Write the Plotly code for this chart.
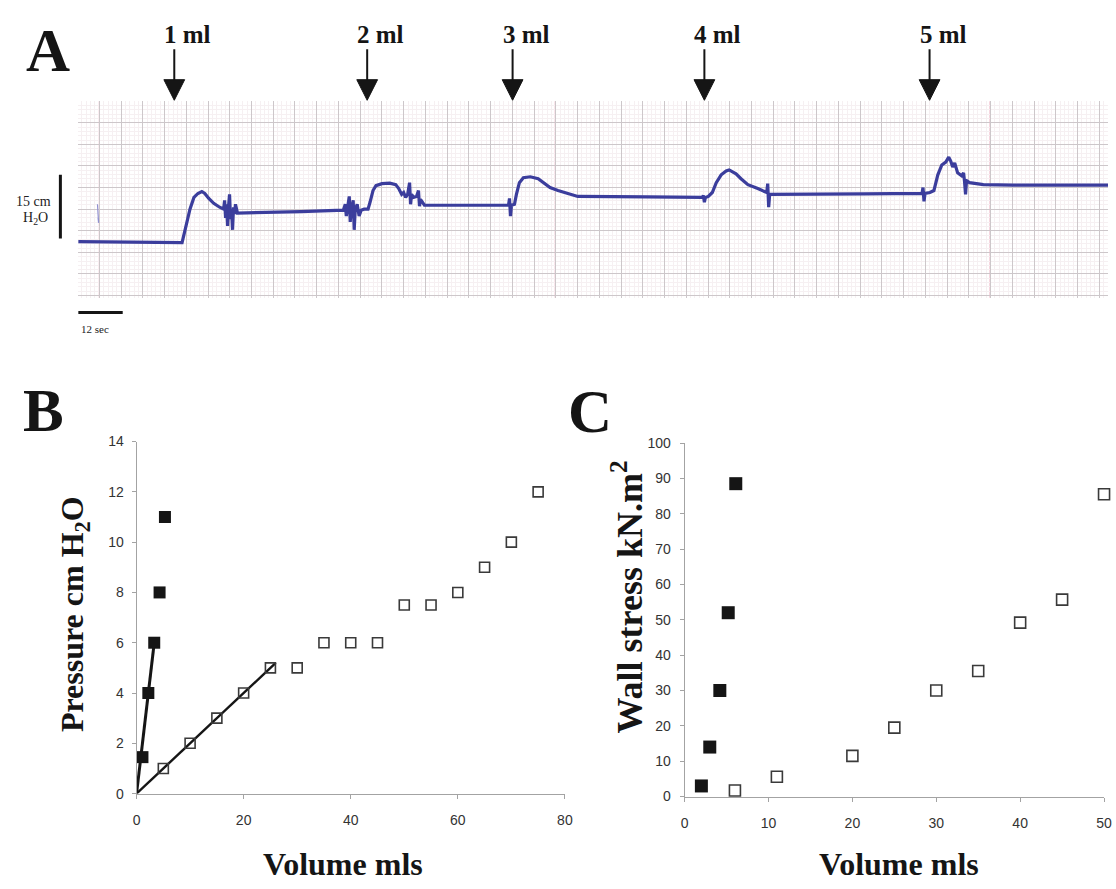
import plotly.graph_objects as go

W, H = 1116, 889

# ---------------- Panel A: bladder pressure recording ----------------
# time in seconds from start of strip, pressure in cm H2O above starting baseline
trace_time_s = [
    0, 12, 27.47, 28, 29.07, 30.13, 31.2, 32.27, 33.33, 34.13, 35.2, 36.53, 38.13,
    39.2, 39.47, 39.73, 40, 40.27, 40.53, 40.8, 41.07, 41.33, 41.6, 41.87, 42.13, 42.4, 42.93,
    49.33, 60, 71.47,
    72, 72.27, 72.53, 73.07, 73.33, 73.6, 74.13, 74.4, 74.67, 75.2, 75.73, 76.27, 77.07,
    78.13, 78.67, 79.47, 80.27, 81.87, 84, 85.6, 86.4, 87.2, 87.73, 88.27, 88.8,
    89.33, 89.6, 89.87, 90.4, 91.2, 91.73, 92, 92.27, 93.33, 105.33, 115.47,
    116, 116.27, 116.53, 116.8, 117.6, 118.13, 118.93, 120, 121.87, 124, 125.6, 127.2, 129.33,
    134.67, 153.33, 168.27,
    168.53, 168.8, 169.07, 169.87, 170.93, 172, 173.33, 174.67, 175.47, 176.27, 177.33,
    178.67, 180.53, 183.2, 185.6,
    185.87, 186.13, 186.4, 193.33, 212, 227.47,
    227.73, 228, 228.27, 229.6, 230.67, 231.73, 232.8, 233.87, 234.67, 235.2, 235.73,
    236.27, 237.07, 238.13,
    238.67, 238.93, 239.2, 239.47, 240.27, 244, 252, 277.6,
]
trace_pressure_cmh2o = [
    0, -0.12, -0.35, -0.23, 3.70, 7.62, 10.39, 11.32, 11.78, 11.32, 10.16, 9.01, 8.08,
    7.62, 9.70, 5.54, 8.78, 3.70, 8.31, 11.09, 5.31, 7.62, 2.77, 8.08, 6.47, 8.78, 6.70,
    6.81, 7.04, 7.39,
    8.78, 6.0, 7.62, 10.62, 4.62, 7.39, 9.70, 2.77, 7.39, 8.78, 6.0, 7.39, 7.62,
    7.62, 9.24, 12.01, 13.16, 13.63, 13.74, 13.39, 12.47, 11.09, 11.55, 10.39, 11.09,
    13.86, 8.78, 11.09, 10.39, 10.62, 12.01, 8.31, 9.93, 8.55, 8.55, 8.55,
    8.55, 10.16, 6.0, 8.55, 8.78, 11.09, 13.86, 15.01, 15.24, 14.78, 13.63, 12.70, 12.01,
    10.62, 10.51, 10.39,
    10.85, 9.24, 10.39, 10.62, 11.55, 13.86, 15.70, 16.63, 16.86, 16.40, 15.94,
    14.78, 13.39, 12.47, 11.55,
    13.63, 8.08, 11.09, 11.09, 11.20, 11.32,
    12.70, 9.47, 11.32, 11.55, 12.01, 15.70, 18.01, 18.71, 19.86, 18.94, 17.55,
    18.48, 16.17, 15.47,
    16.17, 14.09, 11.09, 14.32, 13.86, 13.39, 13.28, 13.28,
]
# faint pen blip near the start of the strip
blip_time_s = [5.2, 5.45, 5.3, 5.5, 5.35]
blip_pressure_cmh2o = [8.8, 6.2, 7.6, 4.4, 5.6]

injection_time_s = [25.9, 77.9, 117.1, 168.8, 229.5]
injection_labels = ["1 ml", "2 ml", "3 ml", "4 ml", "5 ml"]

# chart-paper ruling (s and cm H2O)
paper_x_start_s, paper_x_step_s = 5.7, 5.86
paper_y_start_cm, paper_y_step_cm = 2.54, 5.08
paper_red_lines_s = [5.7, 128.6, 245.8]

scale_pressure_cmh2o = 15
scale_time_s = 12

# ---------------- Panel B: pressure-volume ----------------
b_filled_vol = [1.1, 2.2, 3.3, 4.3, 5.3]
b_filled_press = [1.45, 4.0, 6.0, 8.0, 11.0]
b_open_vol = [5, 10, 15, 20, 25, 30, 35, 40, 45, 50, 55, 60, 65, 70, 75]
b_open_press = [1, 2, 3, 4, 5, 5, 6, 6, 6, 7.5, 7.5, 8, 9, 10, 12]
b_filled_fit_vol = [0, 3.3]
b_filled_fit_press = [0, 6.0]
b_open_fit_vol = [0, 26]
b_open_fit_press = [0, 5.2]

# ---------------- Panel C: wall stress-volume ----------------
c_filled_vol = [2.0, 3.0, 4.2, 5.2, 6.1]
c_filled_stress = [3, 14, 30, 52, 88.5]
c_open_vol = [6, 11, 20, 25, 30, 35, 40, 45, 50]
c_open_stress = [1.7, 5.6, 11.5, 19.5, 30, 35.5, 49.2, 55.7, 85.5]


def px_x(p):
    return p / W


def px_y(p):
    return 1 - p / H


SERIF = "Liberation Serif, Times New Roman, serif"
SANS = "Liberation Sans, Arial, sans-serif"
INK = "#151515"
TRACE_BLUE = "#3b3d9c"

fig = go.Figure()

# Panel A traces
fig.add_trace(go.Scatter(x=blip_time_s, y=blip_pressure_cmh2o, mode="lines",
                         line=dict(color="#9090d0", width=1.2),
                         xaxis="x", yaxis="y", hoverinfo="skip"))
fig.add_trace(go.Scatter(x=trace_time_s, y=trace_pressure_cmh2o, mode="lines",
                         line=dict(color=TRACE_BLUE, width=3.2),
                         xaxis="x", yaxis="y"))

# Panel B traces
fig.add_trace(go.Scatter(x=b_open_fit_vol, y=b_open_fit_press, mode="lines",
                         line=dict(color=INK, width=2.4), xaxis="x2", yaxis="y2",
                         cliponaxis=False))
fig.add_trace(go.Scatter(x=b_filled_fit_vol, y=b_filled_fit_press, mode="lines",
                         line=dict(color=INK, width=3), xaxis="x2", yaxis="y2",
                         cliponaxis=False))
fig.add_trace(go.Scatter(x=b_open_vol, y=b_open_press, mode="markers",
                         marker=dict(symbol="square-open", size=10,
                                     color="#3a3a3a", line=dict(width=1.6, color="#3a3a3a")),
                         xaxis="x2", yaxis="y2", cliponaxis=False))
fig.add_trace(go.Scatter(x=b_filled_vol, y=b_filled_press, mode="markers",
                         marker=dict(symbol="square", size=12, color=INK,
                                     line=dict(width=0)),
                         xaxis="x2", yaxis="y2", cliponaxis=False))

# Panel C traces
fig.add_trace(go.Scatter(x=c_open_vol, y=c_open_stress, mode="markers",
                         marker=dict(symbol="square-open", size=11,
                                     color="#3a3a3a", line=dict(width=1.6, color="#3a3a3a")),
                         xaxis="x3", yaxis="y3", cliponaxis=False))
fig.add_trace(go.Scatter(x=c_filled_vol, y=c_filled_stress, mode="markers",
                         marker=dict(symbol="square", size=13, color=INK,
                                     line=dict(width=0)),
                         xaxis="x3", yaxis="y3", cliponaxis=False))

axis_grey = "#a3a3a3"
tickfont = dict(family=SANS, size=14, color="#333333")

fig.update_layout(
    width=W, height=H,
    margin=dict(l=0, r=0, t=0, b=0),
    paper_bgcolor="white", plot_bgcolor="white",
    showlegend=False,
    # Panel A (chart paper)
    xaxis=dict(domain=[px_x(75), 1.0], range=[0, 277.6], anchor="y",
               showgrid=True, gridcolor="#cdc7ca", gridwidth=1,
               tick0=paper_x_start_s, dtick=paper_x_step_s,
               minor=dict(tick0=paper_x_start_s, dtick=paper_x_step_s / 5,
                          showgrid=True, gridcolor="#f6f0f2", gridwidth=1),
               showticklabels=False, ticks="", zeroline=False, showline=False,
               fixedrange=True),
    yaxis=dict(domain=[px_y(295), px_y(95)], range=[-13.2, 33.0], anchor="x",
               showgrid=True, gridcolor="#cdc7ca", gridwidth=1,
               tick0=paper_y_start_cm, dtick=paper_y_step_cm,
               minor=dict(tick0=paper_y_start_cm, dtick=paper_y_step_cm / 5,
                          showgrid=True, gridcolor="#f6f0f2", gridwidth=1),
               showticklabels=False, ticks="", zeroline=False, showline=False,
               fixedrange=True),
    # Panel B
    xaxis2=dict(domain=[px_x(134), px_x(567)], range=[0, 80], dtick=20, anchor="y2",
                showline=True, linecolor=axis_grey, linewidth=1,
                ticks="outside", ticklen=4, tickcolor=axis_grey,
                tickfont=tickfont, ticklabelstandoff=10,
                showgrid=False, zeroline=False),
    yaxis2=dict(domain=[px_y(800), px_y(441.5)], range=[0, 14], dtick=2, anchor="x2",
                showline=True, linecolor=axis_grey, linewidth=1,
                ticks="outside", ticklen=4, tickcolor=axis_grey,
                tickfont=tickfont, ticklabelstandoff=5,
                showgrid=False, zeroline=False),
    # Panel C
    xaxis3=dict(domain=[px_x(688), px_x(1112)], range=[0, 50], dtick=10, anchor="y3",
                showline=True, linecolor=axis_grey, linewidth=1,
                ticks="outside", ticklen=4, tickcolor=axis_grey,
                tickfont=tickfont, ticklabelstandoff=10,
                showgrid=False, zeroline=False),
    yaxis3=dict(domain=[px_y(803), px_y(443)], range=[0, 100], dtick=10, anchor="x3",
                showline=True, linecolor=axis_grey, linewidth=1,
                ticks="outside", ticklen=4, tickcolor=axis_grey,
                tickfont=tickfont, ticklabelstandoff=6,
                showgrid=False, zeroline=False),
)

shapes = []
# pink major rulings on the chart paper
for t in paper_red_lines_s:
    shapes.append(dict(type="line", xref="x", yref="y domain", x0=t, x1=t, y0=0, y1=1,
                       line=dict(color="#f0b8c8", width=1.2), layer="below"))
# calibration bars
shapes.append(dict(type="line", xref="paper", yref="y",
                   x0=px_x(57), x1=px_x(57), y0=0.7, y1=0.7 + scale_pressure_cmh2o,
                   line=dict(color=INK, width=3)))
shapes.append(dict(type="line", xref="x", yref="paper",
                   x0=0, x1=scale_time_s, y0=px_y(310), y1=px_y(310),
                   line=dict(color=INK, width=3)))

# injection arrows: shaft plus filled head, placed at each injection time
HEAD_HALF_S = 2.8
for t in injection_time_s:
    shapes.append(dict(type="line", xref="x", yref="paper", x0=t, x1=t,
                       y0=px_y(42), y1=px_y(76), line=dict(color=INK, width=2)))
    shapes.append(dict(type="path", xref="x", yref="paper",
                       path=(f"M {t - HEAD_HALF_S},{px_y(73)} L {t + HEAD_HALF_S},{px_y(73)} "
                             f"L {t},{px_y(94)} Z"),
                       fillcolor=INK, line=dict(color=INK, width=1)))
fig.update_layout(shapes=shapes)

annotations = []


def label(text, x, y, size, family=SERIF, angle=0, xanchor="center", color=INK):
    annotations.append(dict(text=text, x=px_x(x), y=px_y(y), xref="paper", yref="paper",
                            showarrow=False, xanchor=xanchor, yanchor="middle",
                            textangle=angle, font=dict(family=family, size=size, color=color)))


# panel letters
label("<b>A</b>", 44, 43, 61)
label("<b>B</b>", 40, 410, 61)
label("<b>C</b>", 592, 411, 61)

# calibration labels
label("15 cm", 30, 197, 14, color="#222222")
label("H<sub>2</sub>O", 32, 214, 14, color="#222222")
label("12 sec", 92, 327, 11, color="#222222")

# axis titles
label("<b>Pressure cm H<sub>2</sub>O</b>", 72, 617, 32, angle=-90)
label("<b>Volume mls</b>", 343, 872, 32)
label("<b>Wall stress kN.m<sup>2</sup></b>", 630, 600, 36, angle=-90)
label("<b>Volume mls</b>", 905, 872, 32)

# injection volumes above the arrows
for t, txt in zip(injection_time_s, injection_labels):
    annotations.append(dict(x=t, y=px_y(27), xref="x", yref="paper", text="<b>" + txt + "</b>",
                            showarrow=False, xanchor="left", yanchor="middle", xshift=-12,
                            font=dict(family=SERIF, size=25, color=INK)))

fig.update_layout(annotations=annotations)

fig.write_html("out.html")
